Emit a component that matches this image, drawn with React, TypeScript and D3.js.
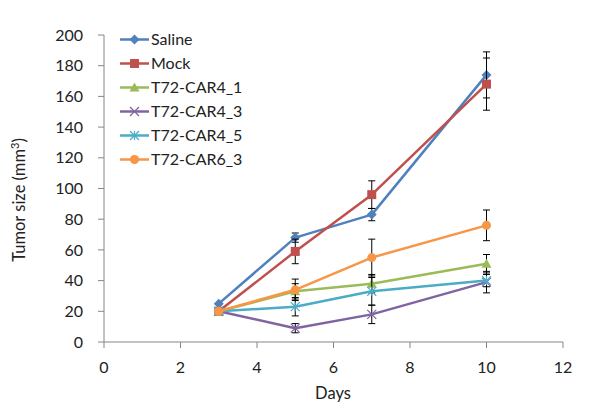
import React from "react";
import * as d3 from "d3";

const days = [3, 5, 7, 10];
const seriesNames = ["Saline", "Mock", "T72-CAR4_1", "T72-CAR4_3", "T72-CAR4_5", "T72-CAR6_3"];
const salineValues = [25, 68, 83, 174];
const mockValues = [20, 59, 96, 168];
const car41Values = [20, 33, 38, 51];
const car43Values = [20, 9, 18, 39];
const car45Values = [20, 23, 33, 40];
const car63Values = [20, 34, 55, 76];
const salineErr = [0, 3, 4, 15];
const mockErr = [0, 8, 9, 17];
const car41Err = [0, 5, 6, 6];
const car43Err = [0, 3, 6, 7];
const car45Err = [0, 6, 9, 4];
const car63Err = [0, 7, 12, 10];
const xTicks = [0, 2, 4, 6, 8, 10, 12];
const yTicks = [0, 20, 40, 60, 80, 100, 120, 140, 160, 180, 200];

const colors = ["#4F81BD", "#C0504D", "#9BBB59", "#8064A2", "#4BACC6", "#F79646"];
const markers = ["diamond", "square", "triangle", "x", "star", "circle"];
const allValues = [salineValues, mockValues, car41Values, car43Values, car45Values, car63Values];
const allErr = [salineErr, mockErr, car41Err, car43Err, car45Err, car63Err];

const FONT = "Lato, 'Open Sans', sans-serif";

function Marker({ kind, x, y, color }: { kind: string; x: number; y: number; color: string }) {
  if (kind === "diamond") {
    const s = 5;
    return <path d={`M${x},${y - s}L${x + s},${y}L${x},${y + s}L${x - s},${y}Z`} fill={color} />;
  }
  if (kind === "square") {
    const s = 4.5;
    return <rect x={x - s} y={y - s} width={2 * s} height={2 * s} fill={color} />;
  }
  if (kind === "triangle") {
    const s = 5;
    return <path d={`M${x},${y - s}L${x + s},${y + s * 0.8}L${x - s},${y + s * 0.8}Z`} fill={color} />;
  }
  if (kind === "x") {
    const s = 4.5;
    return (
      <path d={`M${x - s},${y - s}L${x + s},${y + s}M${x - s},${y + s}L${x + s},${y - s}`} stroke={color} strokeWidth={1.2} />
    );
  }
  if (kind === "star") {
    const s = 4.5;
    return (
      <path
        d={`M${x - s},${y - s}L${x + s},${y + s}M${x - s},${y + s}L${x + s},${y - s}M${x},${y - s}L${x},${y + s}`}
        stroke={color}
        strokeWidth={1.2}
      />
    );
  }
  return <circle cx={x} cy={y} r={4.5} fill={color} />;
}

export default function App() {
  const width = 607;
  const height = 418;
  const x = d3.scaleLinear().domain([0, 12]).range([104, 563]);
  const y = d3.scaleLinear().domain([0, 200]).range([342, 35]);
  const line = d3
    .line<number>()
    .x((_, i) => x(days[i]))
    .y((v) => y(v));

  return (
    <svg width={width} height={height} style={{ position: "absolute", left: 0, top: 0, background: "#fff" }}>
      {/* axes */}
      <line x1={x(0)} x2={x(0)} y1={y(200)} y2={y(0)} stroke="#868686" strokeWidth={1} />
      <line x1={x(0)} x2={x(12)} y1={y(0)} y2={y(0)} stroke="#868686" strokeWidth={1} />
      {yTicks.map((t) => (
        <g key={"y" + t}>
          <line x1={x(0) - 6} x2={x(0)} y1={y(t)} y2={y(t)} stroke="#868686" />
          <text x={83} y={y(t)} dy="0.35em" textAnchor="end" fontFamily={FONT} fontSize={16} fill="#222">
            {t}
          </text>
        </g>
      ))}
      {xTicks.map((t) => (
        <g key={"x" + t}>
          <line x1={x(t)} x2={x(t)} y1={y(0)} y2={y(0) + 6} stroke="#868686" />
          <text x={x(t)} y={367} dy="0.35em" textAnchor="middle" fontFamily={FONT} fontSize={16} fill="#222">
            {t}
          </text>
        </g>
      ))}
      <text x={333} y={393} dy="0.35em" textAnchor="middle" fontFamily={FONT} fontSize={16.5} fill="#222">
        Days
      </text>
      <text
        transform={`translate(19,${200}) rotate(-90)`}
        textAnchor="middle"
        dy="0.35em"
        fontFamily={FONT}
        fontSize={16.5}
        fill="#222"
      >
        Tumor size (mm<tspan dy="-6" fontSize={11}>3</tspan>
        <tspan dy="6">)</tspan>
      </text>

      {/* series */}
      {allValues.map((vals, si) => (
        <g key={"s" + si}>
          {vals.map((v, i) => {
            const e = allErr[si][i];
            if (!e) return null;
            const cx = x(days[i]);
            return (
              <g key={"e" + i} stroke="#000" strokeWidth={1}>
                <line x1={cx} x2={cx} y1={y(v - e)} y2={y(v + e)} />
                <line x1={cx - 3.5} x2={cx + 3.5} y1={y(v - e)} y2={y(v - e)} />
                <line x1={cx - 3.5} x2={cx + 3.5} y1={y(v + e)} y2={y(v + e)} />
              </g>
            );
          })}
          <path d={line(vals) || ""} fill="none" stroke={colors[si]} strokeWidth={2.5} strokeLinejoin="round" />
          {vals.map((v, i) => (
            <Marker key={"m" + i} kind={markers[si]} x={x(days[i])} y={y(v)} color={colors[si]} />
          ))}
        </g>
      ))}

      {/* legend */}
      {seriesNames.map((name, i) => {
        const ly = 39.5 + i * 24;
        return (
          <g key={"l" + i}>
            <line x1={120} x2={149} y1={ly} y2={ly} stroke={colors[i]} strokeWidth={2.5} />
            <Marker kind={markers[i]} x={134.5} y={ly} color={colors[i]} />
            <text x={151} y={ly} dy="0.35em" fontFamily={FONT} fontSize={16} fill="#222">
              {name}
            </text>
          </g>
        );
      })}
    </svg>
  );
}
